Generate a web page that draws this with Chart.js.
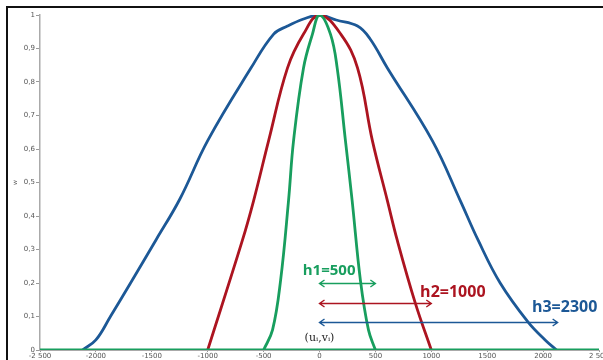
<!DOCTYPE html>
<html>
<head>
<meta charset="utf-8">
<title>Kernel bandwidths</title>
<script src="https://cdn.jsdelivr.net/npm/chart.js@4.4.1/dist/chart.umd.min.js"></script>
<style>
  html, body { margin: 0; padding: 0; background: #fff; }
  #chartBox { width: 603px; height: 360px; }
</style>
</head>
<body>
<div id="chartBox"><canvas id="myKernelChart" width="603" height="360"></canvas></div>
<script>
// kernel profiles for three bandwidths

var xTickLabels = ['-2 500', '-2000', '-1500', '-1000', '-500', '0', '500', '1000', '1500', '2000', '2 500'];
var yTickLabels = ['0', '0,1', '0,2', '0,3', '0,4', '0,5', '0,6', '0,7', '0,8', '0,9', '1'];

// zero line along the whole axis
var baseX = [-2500, 2500];
var baseY = [0, 0];

// h1 = 500
var h1X = [-500, -420, -348, -277, -232, -143, -63, 0, 98, 158, 232, 292, 366, 438, 500];
var h1Y = [0, 0.06, 0.208, 0.446, 0.625, 0.842, 0.943, 1, 0.943, 0.842, 0.625, 0.446, 0.208, 0.06, 0];

// h2 = 1000
var h2X = [-1000, -690, -589, -455, -286, -143, 0, 190, 340, 473, 607, 696, 857, 1000];
var h2Y = [0, 0.327, 0.446, 0.625, 0.842, 0.943, 1, 0.943, 0.842, 0.625, 0.446, 0.327, 0.14, 0];

// h3 = 2300
var h3X = [-2120, -2000, -1870, -1690, -1460, -1250, -1000, -616, -410, -286, -143, 0, 150, 340, 450, 607, 1009, 1259, 1420, 1616, 1866, 2018, 2120];
var h3Y = [0, 0.03, 0.1, 0.2, 0.33, 0.45, 0.625, 0.84, 0.943, 0.967, 0.988, 1, 0.985, 0.967, 0.93, 0.842, 0.625, 0.446, 0.327, 0.2, 0.083, 0.03, 0];

// double arrows showing each bandwidth
var bandNames = ['h1=500', 'h2=1000', 'h3=2300'];
var arrowStart = [0, 0, 0];
var arrowEnd = [500, 1000, 2130];
var arrowLevel = [0.2, 0.14, 0.085];

var bandColors = ['rgb(24, 158, 94)', 'rgb(172, 20, 32)', 'rgb(28, 88, 150)'];

function toPoints(xs, ys) {
  var pts = [];
  for (var i = 0; i < xs.length; i++) {
    pts.push({ x: xs[i], y: ys[i] });
  }
  return pts;
}

// where the notes sit, in data units
var notes = {
  labelX: [-150, 900, 1900],
  labelY: [0.238, 0.173, 0.128],
  labelSize: [15, 16, 16]
};

var notesPlugin = {
  id: 'bandNotes',
  afterDatasetsDraw: function(chart) {
    var ctx = chart.ctx;
    var xs = chart.scales.x;
    var ys = chart.scales.y;
    ctx.save();
    for (var i = 0; i < bandNames.length; i++) {
      var y = Math.round(ys.getPixelForValue(arrowLevel[i])) + 0.5;
      var x0 = xs.getPixelForValue(arrowStart[i]);
      var x1 = xs.getPixelForValue(arrowEnd[i]);
      ctx.strokeStyle = bandColors[i];
      ctx.lineWidth = 1.4;
      ctx.beginPath();
      ctx.moveTo(x0, y);
      ctx.lineTo(x1, y);
      ctx.moveTo(x0 + 5, y - 3.5);
      ctx.lineTo(x0, y);
      ctx.lineTo(x0 + 5, y + 3.5);
      ctx.moveTo(x1 - 5, y - 3.5);
      ctx.lineTo(x1, y);
      ctx.lineTo(x1 - 5, y + 3.5);
      ctx.stroke();

      ctx.fillStyle = bandColors[i];
      ctx.font = 'bold ' + notes.labelSize[i] + 'px "Open Sans"';
      ctx.textAlign = 'left';
      ctx.textBaseline = 'middle';
      ctx.fillText(bandNames[i], xs.getPixelForValue(notes.labelX[i]), ys.getPixelForValue(notes.labelY[i]));
    }
    // centre point label
    ctx.fillStyle = '#222';
    ctx.font = '11px "DejaVu Serif"';
    ctx.textAlign = 'center';
    ctx.fillText('(u\u1D62,v\u1D62)', xs.getPixelForValue(0), ys.getPixelForValue(0.036));
    ctx.restore();
  },
  afterDraw: function(chart) {
    // black frame on the top and left of the picture
    var ctx = chart.ctx;
    ctx.save();
    ctx.strokeStyle = '#111';
    ctx.lineWidth = 2;
    ctx.beginPath();
    ctx.moveTo(7, 360);
    ctx.lineTo(7, 7);
    ctx.lineTo(603, 7);
    ctx.stroke();
    ctx.restore();
  }
};

var chartdata = {
  datasets: [
    { label: 'zero', data: toPoints(baseX, baseY), borderColor: bandColors[0], borderWidth: 3 },
    { label: 'h1', data: toPoints(h1X, h1Y), borderColor: bandColors[0], borderWidth: 2.8 },
    { label: 'h2', data: toPoints(h2X, h2Y), borderColor: bandColors[1], borderWidth: 2.8 },
    { label: 'h3', data: toPoints(h3X, h3Y), borderColor: bandColors[2], borderWidth: 2.8 }
  ]
};

var tickFont = { family: 'DejaVu Sans', size: 7 };

var options = {
  responsive: false,
  animation: false,
  devicePixelRatio: 1,
  layout: { padding: { top: 15, right: 4, left: 8, bottom: 0 } },
  elements: {
    point: { radius: 0 },
    line: { tension: 0.4, fill: false }
  },
  plugins: {
    legend: { display: false },
    tooltip: { enabled: false }
  },
  scales: {
    x: {
      type: 'linear',
      min: -2500,
      max: 2500,
      grid: { drawOnChartArea: false, tickLength: 2, color: '#999' },
      border: { color: '#aaa' },
      ticks: {
        stepSize: 500,
        autoSkip: false,
        maxRotation: 0,
        padding: 0,
        color: '#555',
        font: tickFont,
        callback: function(value, index) { return xTickLabels[index]; }
      },
      afterFit: function(scale) {
        scale.height = 10;
        scale.paddingLeft = 0;
        scale.paddingRight = 0;
      }
    },
    y: {
      min: 0,
      max: 1,
      grid: { drawOnChartArea: false, tickLength: 4, color: '#999' },
      border: { color: '#aaa', width: 1.5 },
      title: { display: true, text: 'w', color: '#666', font: { family: 'DejaVu Sans', size: 6 }, padding: { top: 4, bottom: 0 } },
      ticks: {
        stepSize: 0.1,
        padding: 1,
        color: '#555',
        font: tickFont,
        callback: function(value, index) { return yTickLabels[index]; }
      },
      afterFit: function(scale) {
        scale.width = 32;
        scale.paddingTop = 0;
        scale.paddingBottom = 0;
      }
    }
  }
};

var ctx = document.getElementById('myKernelChart');

var chart = new Chart(ctx, {
  type: 'line',
  data: chartdata,
  options: options,
  plugins: [notesPlugin]
});
</script>
</body>
</html>
